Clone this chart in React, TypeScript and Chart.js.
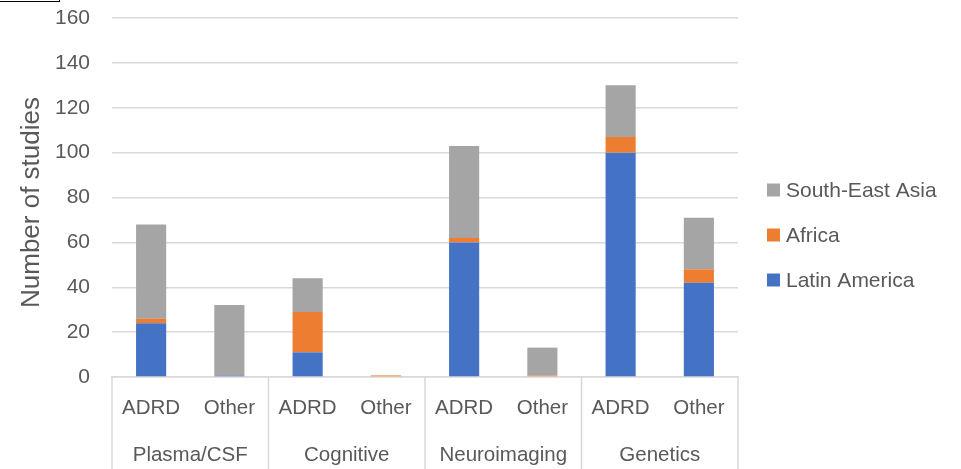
import React, { useEffect, useRef } from "react";
import { Chart, registerables } from "chart.js";

Chart.register(...registerables);

const categories = ["ADRD", "Other", "ADRD", "Other", "ADRD", "Other", "ADRD", "Other"];
const groups = ["Plasma/CSF", "Cognitive", "Neuroimaging", "Genetics"];
const seriesNames = ["Latin America", "Africa", "South-East Asia"];
const latinAmerica = [24, 0.6, 11, 0, 60, 0, 100, 42];
const africa = [2, 0, 18, 0.7, 2, 0.6, 7, 6];
const southEastAsia = [42, 31.5, 15, 0, 41, 12.5, 23, 23];
const seriesColors = ["#4472C4", "#ED7D31", "#A5A5A5"];
const yTicks = [0, 20, 40, 60, 80, 100, 120, 140, 160];
const yTitle = "Number of studies";

const FONT = "'Liberation Sans', Arial, sans-serif";
const TEXT = "#595959";
const GRID = "#d9d9d9";

const extrasPlugin = {
  id: "extras",
  afterDraw(chart: any) {
    const { ctx, chartArea, scales } = chart;
    const x = scales.x;
    const n = categories.length;
    const per = n / groups.length;
    ctx.save();
    // group separators
    ctx.strokeStyle = GRID;
    ctx.lineWidth = 1.5;
    for (let g = 0; g <= groups.length; g++) {
      const i = g * per;
      let px: number;
      if (i === 0) px = chartArea.left;
      else if (i === n) px = chartArea.right;
      else px = (x.getPixelForValue(i - 1) + x.getPixelForValue(i)) / 2;
      ctx.beginPath();
      ctx.moveTo(px, chartArea.bottom);
      ctx.lineTo(px, chart.height);
      ctx.stroke();
    }
    // group labels
    ctx.fillStyle = TEXT;
    ctx.font = `20.5px ${FONT}`;
    ctx.textAlign = "center";
    ctx.textBaseline = "middle";
    groups.forEach((gName, g) => {
      const a = x.getPixelForValue(g * per);
      const b = x.getPixelForValue(g * per + per - 1);
      ctx.fillText(gName, (a + b) / 2, chartArea.bottom + 78);
    });
    // y-axis title
    ctx.save();
    ctx.translate(32, (chartArea.top + chartArea.bottom) / 2 + 5);
    ctx.rotate(-Math.PI / 2);
    ctx.font = `26px ${FONT}`;
    ctx.fillStyle = TEXT;
    ctx.textAlign = "center";
    ctx.textBaseline = "middle";
    ctx.fillText(yTitle, 0, 0);
    ctx.restore();
    // legend (reversed order)
    const lx = chartArea.right + 29;
    const ly0 = chartArea.bottom - 187;
    const ds = chart.data.datasets;
    ctx.font = `21px ${FONT}`;
    ctx.textAlign = "left";
    ctx.textBaseline = "middle";
    for (let k = 0; k < ds.length; k++) {
      const d = ds[ds.length - 1 - k];
      const cy = ly0 + k * 45;
      ctx.fillStyle = d.backgroundColor;
      ctx.fillRect(lx, cy - 6.5, 13, 13);
      ctx.fillStyle = TEXT;
      ctx.fillText(d.label, lx + 19, cy + 1);
    }
    ctx.restore();
  },
};

function ChartView() {
  const ref = useRef<HTMLCanvasElement | null>(null);
  useEffect(() => {
    if (!ref.current) return;
    const values = [latinAmerica, africa, southEastAsia];
    const chart = new Chart(ref.current, {
      type: "bar",
      data: {
        labels: categories,
        datasets: seriesNames.map((name, i) => ({
          label: name,
          data: values[i],
          backgroundColor: seriesColors[i],
          borderWidth: 0,
          barPercentage: 0.385,
          categoryPercentage: 1,
        })),
      },
      options: {
        responsive: false,
        animation: false,
        layout: { padding: { top: 18, right: 223, bottom: 0, left: 0 } },
        plugins: { legend: { display: false }, tooltip: { enabled: false } },
        scales: {
          x: {
            stacked: true,
            grid: { display: false, drawTicks: false },
            border: { display: true, color: GRID, width: 1.5 },
            ticks: {
              color: TEXT,
              font: { family: FONT, size: 20.5 },
              padding: 19,
              maxRotation: 0,
              autoSkip: false,
            },
            afterFit: (s: any) => {
              s.height = 92;
              s.paddingLeft = 0;
              s.paddingRight = 0;
            },
          },
          y: {
            stacked: true,
            min: yTicks[0],
            max: yTicks[yTicks.length - 1],
            afterBuildTicks: (s: any) => {
              s.ticks = yTicks.map((v) => ({ value: v }));
            },
            grid: { color: GRID, lineWidth: 1.5, drawTicks: false },
            border: { display: false },
            ticks: {
              color: TEXT,
              font: { family: FONT, size: 21 },
              padding: 22,
            },
            afterFit: (s: any) => {
              s.width = 112;
              s.paddingTop = 0;
              s.paddingBottom = 0;
            },
          },
        },
      },
      plugins: [extrasPlugin],
    });
    return () => chart.destroy();
  }, []);
  return <canvas ref={ref} width={961} height={469} />;
}

export default function App() {
  return (
    <div style={{ position: "absolute", left: 0, top: 0, width: 961, height: 469, background: "#fff" }}>
      <div
        style={{
          position: "absolute",
          left: -1,
          top: -1,
          width: 59,
          height: 1,
          border: "1px solid #000",
        }}
      />
      <ChartView />
    </div>
  );
}
